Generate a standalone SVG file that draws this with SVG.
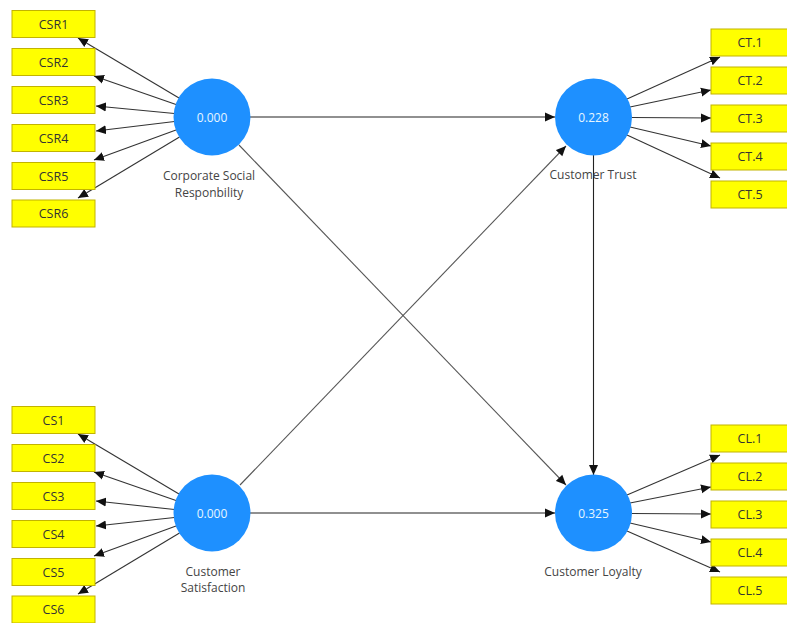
<svg xmlns="http://www.w3.org/2000/svg" width="787" height="623" viewBox="0 0 787 623">
<defs>
<marker id="ah" markerUnits="userSpaceOnUse" markerWidth="10" markerHeight="10" refX="10" refY="5" orient="auto">
<path d="M0,0.5 L10,5 L0,9.5 z" fill="#111"/>
</marker>
<style>
.ind{stroke:#333;stroke-width:1.1;fill:none;marker-end:url(#ah)}
.str{stroke:#222;stroke-width:1.1;fill:none;marker-end:url(#ah)}
.diag{stroke:#555;stroke-width:1.1;fill:none;marker-end:url(#ah)}
.box{fill:#ffff00;stroke:#c2b300;stroke-width:1}
.bt{font-family:"Open Sans","Liberation Sans",sans-serif;font-size:12.5px;fill:#333;text-anchor:middle}
.lv{fill:#1e90ff}
.val{font-family:"Open Sans","Liberation Sans",sans-serif;font-size:12px;fill:#e6f6ff;text-anchor:middle}
.lbl{font-family:"Open Sans","Liberation Sans",sans-serif;font-size:12px;fill:#444;text-anchor:middle}
</style>
</defs>
<rect width="787" height="623" fill="#fff"/>
<g id="connectors">
<line class="str" x1="250" y1="117" x2="555" y2="117"/>
<line class="str" x1="593.5" y1="155" x2="593.5" y2="475"/>
<line class="str" x1="250" y1="513" x2="555" y2="513"/>
<line class="diag" x1="239" y1="145" x2="566" y2="485"/>
<line class="diag" x1="240" y1="485" x2="566" y2="146"/>
<line class="ind" x1="179" y1="98" x2="78" y2="38"/>
<line class="ind" x1="176" y1="104.5" x2="94" y2="76"/>
<line class="ind" x1="174.5" y1="113.5" x2="96" y2="106"/>
<line class="ind" x1="174.5" y1="121.5" x2="96" y2="131"/>
<line class="ind" x1="176" y1="130" x2="94" y2="160"/>
<line class="ind" x1="179.5" y1="137" x2="78" y2="198"/>
<line class="ind" x1="179" y1="494" x2="78" y2="434"/>
<line class="ind" x1="176" y1="500.5" x2="94" y2="472"/>
<line class="ind" x1="174.5" y1="509.5" x2="96" y2="501"/>
<line class="ind" x1="174.5" y1="517.5" x2="96" y2="526"/>
<line class="ind" x1="176" y1="526" x2="94" y2="556"/>
<line class="ind" x1="179.5" y1="533" x2="78" y2="594"/>
<line class="ind" x1="627" y1="99" x2="720" y2="57"/>
<line class="ind" x1="630" y1="107" x2="711" y2="90"/>
<line class="ind" x1="632" y1="117.5" x2="711" y2="118"/>
<line class="ind" x1="630" y1="127" x2="711" y2="146"/>
<line class="ind" x1="627" y1="135" x2="720" y2="178"/>
<line class="ind" x1="627" y1="495" x2="720" y2="455"/>
<line class="ind" x1="630" y1="503" x2="711" y2="487"/>
<line class="ind" x1="632" y1="513.5" x2="711" y2="514"/>
<line class="ind" x1="630" y1="523" x2="711" y2="542"/>
<line class="ind" x1="627" y1="531" x2="720" y2="572"/>
</g>
<g id="CSR">
<circle class="lv" cx="212" cy="117" r="38.5"/>
<text class="val" x="212" y="121.5">0.000</text>
<text class="lbl" x="209" y="180">Corporate Social</text>
<text class="lbl" x="209" y="197">Responbility</text>
</g>
<g id="CT">
<circle class="lv" cx="593.5" cy="117" r="38.5"/>
<text class="val" x="593.5" y="121.5">0.228</text>
<text class="lbl" x="593" y="179">Customer Trust</text>
</g>
<g id="CS">
<circle class="lv" cx="212" cy="513" r="38.5"/>
<text class="val" x="212" y="517.5">0.000</text>
<text class="lbl" x="213" y="576">Customer</text>
<text class="lbl" x="213" y="592">Satisfaction</text>
</g>
<g id="CL">
<circle class="lv" cx="593.5" cy="513" r="38.5"/>
<text class="val" x="593.5" y="517.5">0.325</text>
<text class="lbl" x="593" y="576">Customer Loyalty</text>
</g>
<g id="CSR1"><rect class="box" x="12" y="10.5" width="83" height="27"/><text class="bt" x="53.5" y="28.5">CSR1</text></g>
<g id="CSR2"><rect class="box" x="12" y="48.5" width="83" height="27"/><text class="bt" x="53.5" y="66.5">CSR2</text></g>
<g id="CSR3"><rect class="box" x="12" y="86.5" width="83" height="27"/><text class="bt" x="53.5" y="104.5">CSR3</text></g>
<g id="CSR4"><rect class="box" x="12" y="124.5" width="83" height="27"/><text class="bt" x="53.5" y="142.5">CSR4</text></g>
<g id="CSR5"><rect class="box" x="12" y="162.5" width="83" height="27"/><text class="bt" x="53.5" y="180.5">CSR5</text></g>
<g id="CSR6"><rect class="box" x="12" y="200" width="83" height="27"/><text class="bt" x="53.5" y="218">CSR6</text></g>
<g id="CS1"><rect class="box" x="12" y="406.5" width="83" height="27"/><text class="bt" x="53.5" y="424.5">CS1</text></g>
<g id="CS2"><rect class="box" x="12" y="444.5" width="83" height="27"/><text class="bt" x="53.5" y="462.5">CS2</text></g>
<g id="CS3"><rect class="box" x="12" y="482.5" width="83" height="27"/><text class="bt" x="53.5" y="500.5">CS3</text></g>
<g id="CS4"><rect class="box" x="12" y="520.5" width="83" height="27"/><text class="bt" x="53.5" y="538.5">CS4</text></g>
<g id="CS5"><rect class="box" x="12" y="558.5" width="83" height="27"/><text class="bt" x="53.5" y="576.5">CS5</text></g>
<g id="CS6"><rect class="box" x="12" y="596" width="83" height="27"/><text class="bt" x="53.5" y="614">CS6</text></g>
<g id="CT1"><rect class="box" x="711" y="29" width="83" height="27"/><text class="bt" x="750" y="47">CT.1</text></g>
<g id="CT2"><rect class="box" x="711" y="67" width="83" height="27"/><text class="bt" x="750" y="85">CT.2</text></g>
<g id="CT3"><rect class="box" x="711" y="105" width="83" height="27"/><text class="bt" x="750" y="123">CT.3</text></g>
<g id="CT4"><rect class="box" x="711" y="143" width="83" height="27"/><text class="bt" x="750" y="161">CT.4</text></g>
<g id="CT5"><rect class="box" x="711" y="181" width="83" height="27"/><text class="bt" x="750" y="199">CT.5</text></g>
<g id="CL1"><rect class="box" x="711" y="425" width="83" height="27"/><text class="bt" x="750" y="443">CL.1</text></g>
<g id="CL2"><rect class="box" x="711" y="463" width="83" height="27"/><text class="bt" x="750" y="481">CL.2</text></g>
<g id="CL3"><rect class="box" x="711" y="501" width="83" height="27"/><text class="bt" x="750" y="519">CL.3</text></g>
<g id="CL4"><rect class="box" x="711" y="539" width="83" height="27"/><text class="bt" x="750" y="557">CL.4</text></g>
<g id="CL5"><rect class="box" x="711" y="577" width="83" height="27"/><text class="bt" x="750" y="595">CL.5</text></g>
</svg>
